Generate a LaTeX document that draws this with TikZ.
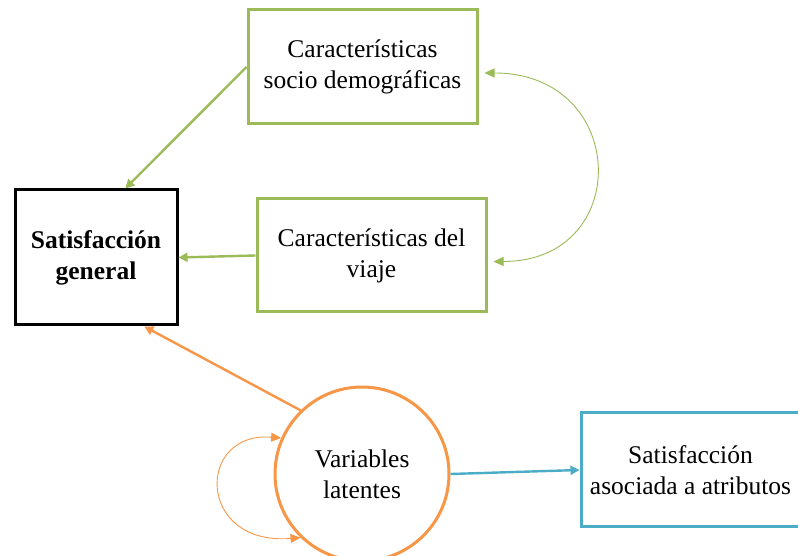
\documentclass[tikz,border=0pt]{standalone}
\usepackage{fontspec}
\setmainfont{Liberation Serif}
\usetikzlibrary{arrows.meta,positioning}
\definecolor{verde}{HTML}{9BBB59}
\definecolor{naranja}{HTML}{F79646}
\definecolor{azul}{HTML}{4BACC6}
\tikzset{
  every node/.style={font=\fontsize{25.5}{31}\selectfont},
  caja/.style={draw=verde,line width=3pt,fill=white,align=center,
               minimum width=229pt,minimum height=114pt,inner sep=2pt},
  cajanegra/.style={caja,draw=black,minimum width=162pt,minimum height=135pt,
               font=\fontsize{25.5}{31}\selectfont\bfseries},
  cajaazul/.style={caja,draw=azul,minimum width=219pt},
  circulo/.style={circle,draw=naranja,line width=3pt,fill=white,align=center,
               minimum size=174pt,inner sep=0pt},
  fl/.style={-{Triangle[length=9pt,width=9pt]},line width=2.4pt},
  curva/.style={{Triangle[length=10pt,width=9pt]}-{Triangle[length=10pt,width=9pt]},line width=0.9pt},
}
\begin{document}
\begin{tikzpicture}[x=1pt,y=1pt]
\useasboundingbox (0,0) rectangle (798,556);

\node[caja] (socio) at (362.5,489) {Características\\socio demográficas};
\node[cajanegra] (sat) at (96,298.5) {Satisfacción\\general};
\node[caja,minimum height=113pt] (viaje) at (371.5,300.5) {Características del\\viaje};
\node[circulo] (lat) at (362,82) {Variables\\latentes};
\node[cajaazul] (atr) at (690.5,86) {Satisfacción\\asociada a atributos};

\draw[fl,draw=verde,fill=verde] (socio.west) -- (sat.67);
\draw[fl,draw=verde,fill=verde] (viaje.west) -- (sat.east);
\draw[fl,draw=naranja,fill=naranja] (lat.134) -- (sat.-55);
\draw[fl,draw=azul,fill=azul] (lat.east) -- (atr.west);

% relaciones curvas
\draw[curva,draw=verde,fill=none] ([xshift=6pt,yshift=-6pt]socio.east)
  .. controls +(145,0) and +(140,0) .. ([xshift=6pt,yshift=-6pt]viaje.east);
\draw[curva,draw=naranja,fill=none] (lat.226)
  .. controls (196,10) and (196,125) .. (lat.156);
\end{tikzpicture}
\end{document}
